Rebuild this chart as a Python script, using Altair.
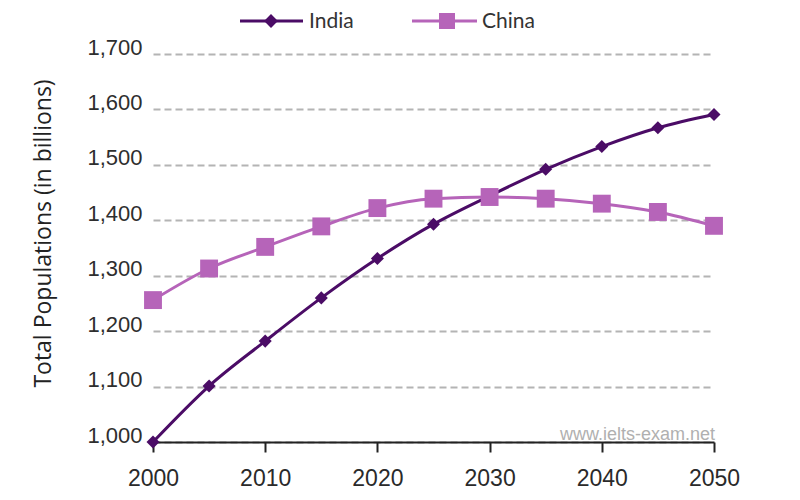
import altair as alt
import pandas as pd

years = [2000, 2005, 2010, 2015, 2020, 2025, 2030, 2035, 2040, 2045, 2050]
india = [1000, 1101, 1182, 1260, 1331, 1393, 1444, 1492, 1533, 1567, 1591]
china = [1256, 1313, 1352, 1389, 1422, 1439, 1442, 1439, 1430, 1415, 1390]
series = ["India", "China"]
colors = ["#4b0c66", "#b664b9"]
shapes = ["diamond", "square"]
y_ticks = [1000, 1100, 1200, 1300, 1400, 1500, 1600, 1700]
x_ticks = [2000, 2010, 2020, 2030, 2040, 2050]

rows = []
for y, v in zip(years, india):
    rows.append({"year": y, "pop": v, "series": "India"})
for y, v in zip(years, china):
    rows.append({"year": y, "pop": v, "series": "China"})
df = pd.DataFrame(rows)

x_enc = alt.X("year:Q", scale=alt.Scale(domain=[2000, 2050], nice=False, zero=False),
              axis=alt.Axis(values=x_ticks, format="d", title=None, grid=False,
                            domainColor="#222", domainWidth=2, tickColor="#222",
                            tickWidth=2, tickSize=10, labelPadding=15, labelFlush=False,
                            labelFont="Liberation Sans", labelFontSize=23,
                            labelColor="#2a2a2a"))
y_enc = alt.Y("pop:Q", scale=alt.Scale(domain=[1000, 1700], nice=False, zero=False),
              axis=alt.Axis(values=y_ticks, format=",.0f", title="Total Populations (in billions)",
                            domain=False, ticks=False, grid=True, gridColor="#b4b4b4",
                            gridDash=[7, 4], gridWidth=2, labelPadding=11, labelFlush=False,
                            labelBaseline="alphabetic",
                            labelFont="Liberation Sans", labelFontSize=22, labelColor="#2e2e2e",
                            titleFont="Open Sans", titleFontSize=23, titleFontWeight="normal",
                            titleColor="#222", titleX=-110, titleY=179,
                            titleBaseline="middle", titleAlign="center", titleAngle=270))

color_scale = alt.Scale(domain=series, range=colors)
shape_scale = alt.Scale(domain=series, range=shapes)

layers = []
for s, size in zip(series, [170, 320]):
    sub = df[df.series == s]
    base = alt.Chart(sub)
    line = base.mark_line(strokeWidth=3, interpolate="monotone").encode(
        x=x_enc, y=y_enc,
        color=alt.Color("series:N", scale=color_scale, legend=None))
    pts = base.mark_point(filled=True, opacity=1, size=size).encode(
        x=x_enc, y=y_enc,
        color=alt.Color("series:N", scale=color_scale, legend=None),
        shape=alt.Shape("series:N", scale=shape_scale, legend=None))
    layers += [line, pts]

# custom legend (pixel positions)
one = alt.Data(values=[{"a": 1}])
leg = []
for s, c, shp, x0, x1, xm, xt, sz in [
    ("India", colors[0], "diamond", 87, 150, 118, 156, 190),
    ("China", colors[1], "square", 259, 324, 294, 329, 256),
]:
    leg.append(alt.Chart(one).mark_rule(color=c, strokeWidth=3).encode(
        x=alt.value(x0), x2=alt.value(x1), y=alt.value(-33)))
    leg.append(alt.Chart(one).mark_point(shape=shp, filled=True, opacity=1, color=c, size=sz).encode(
        x=alt.value(xm), y=alt.value(-33)))
    leg.append(alt.Chart(one).mark_text(text=s, align="left", baseline="middle", font="Lato",
                                         fontSize=21, color="#333").encode(
        x=alt.value(xt), y=alt.value(-32)))

watermark = alt.Chart(one).mark_text(text="www.ielts-exam.net", align="right", baseline="alphabetic",
                                     font="Liberation Sans", fontSize=18,
                                     color="#b0b0b0").encode(x=alt.value(562), y=alt.value(386))

chart = alt.layer(*layers, *leg, watermark).properties(
    width=561, height=388,
    autosize="none",
    background="white",
    padding={"left": 145, "top": 46, "right": 78, "bottom": 50},
).configure_view(stroke=None)

chart.save("out.html", embed_options={"renderer": "svg", "actions": False})
